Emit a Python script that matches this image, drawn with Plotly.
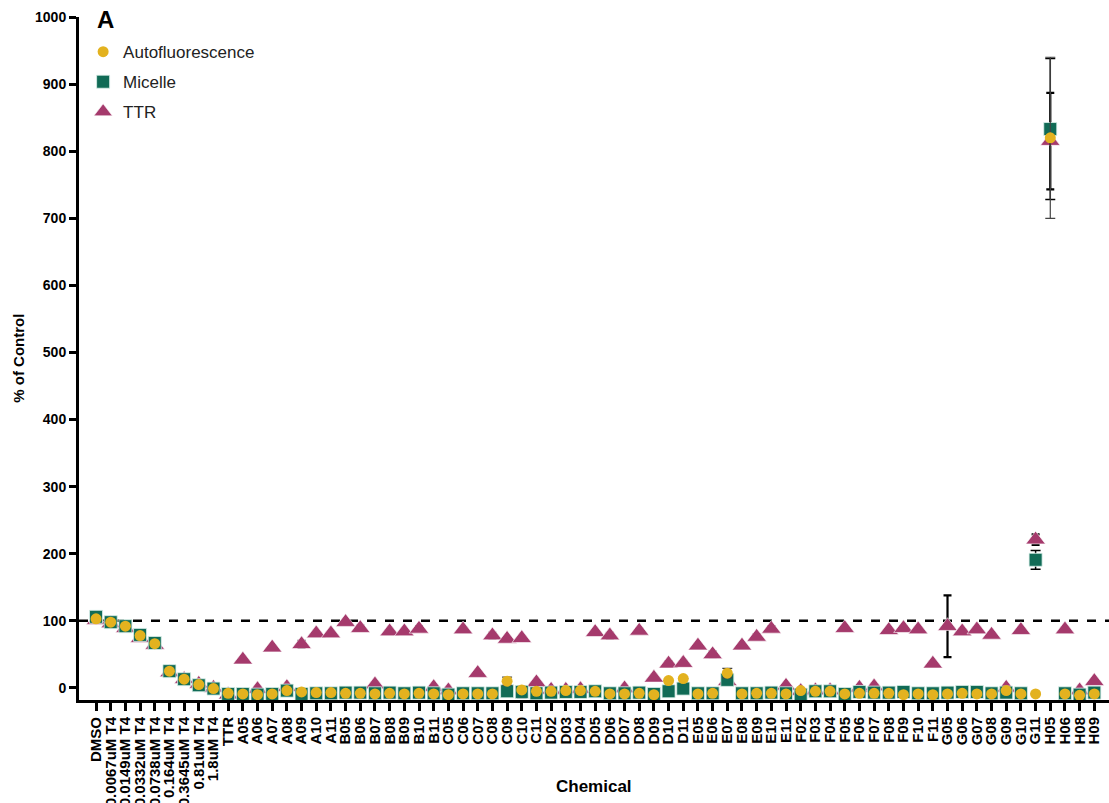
import plotly.graph_objects as go

# Chemicals on the x axis
chemicals = [
    "DMSO", "0.0067uM T4", "0.0149uM T4", "0.0332uM T4", "0.0738uM T4",
    "0.164uM T4", "0.3645uM T4", "0.81uM T4", "1.8uM T4", "TTR",
    "A05", "A06", "A07", "A08", "A09", "A10", "A11",
    "B05", "B06", "B07", "B08", "B09", "B10", "B11",
    "C05", "C06", "C07", "C08", "C09", "C10", "C11",
    "D02", "D03", "D04", "D05", "D06", "D07", "D08", "D09", "D10", "D11",
    "E05", "E06", "E07", "E08", "E09", "E10", "E11",
    "F02", "F03", "F04", "F05", "F06", "F07", "F08", "F09", "F10", "F11",
    "G05", "G06", "G07", "G08", "G09", "G10", "G11",
    "H05", "H06", "H08", "H09",
]

# % of control for each assay
autofluorescence = [
    103, 98, 92, 78, 66, 25, 13, 5, -1, -8,
    -9, -10, -9, -4, -6, -7, -7,
    -8, -8, -9, -8, -9, -8, -9,
    -10, -9, -9, -9, 10, -3, -5,
    -5, -4, -4, -5, -9, -9, -8, -10, 11, 14,
    -9, -8, 22, -9, -8, -8, -9,
    -4, -5, -5, -9, -8, -8, -8, -10, -9, -10,
    -9, -8, -9, -9, -4, -9, -9,
    820, -9, -11, -9,
]
micelle = [
    106, 98, 92, 79, 67, 25, 13, 4, -1, -9,
    -9, -10, -9, -4, -9, -8, -8,
    -7, -7, -8, -7, -8, -7, -8,
    -10, -8, -8, -8, -5, -6, -8,
    -7, -6, -6, -5, -8, -8, -7, -9, -5, -1,
    -8, -8, 12, -8, -8, -7, -8,
    -10, -5, -5, -9, -6, -7, -7, -6, -8, -8,
    -7, -6, -6, -8, -7, -8, 191,
    833, -8, -10, -7,
]
ttr = [
    101, 96, 89, 74, 64, 23, 13, 6, 0, -10,
    42, -2, 60, 1, 65, 81, 81,
    98, 89, 5, 84, 84, 88, 1,
    -4, 87, 22, 78, 73, 74, 8,
    -3, -3, -2, 83, 78, -1, 85, 15, 36, 37,
    63, 50, 10, 63, 76, 88, 3,
    -5, -4, -4, 89, 0, 2, 86, 89, 87, 36,
    92, 84, 87, 79, 0, 86, 221,
    815, 87, -4, 10,
]

# Error bars (None where no bar is drawn)
auto_err = [None] * len(chemicals)
mic_err = [None] * len(chemicals)
ttr_err = [None] * len(chemicals)
for name, e in {"C09": 6, "E07": 7, "H05": 120}.items():
    auto_err[chemicals.index(name)] = e
for name, e in {"C10": 9, "D11": 8, "G11": 14, "H05": 105}.items():
    mic_err[chemicals.index(name)] = e
for name, e in {"A09": 5, "B06": 4, "B10": 4, "C08": 4, "D06": 4, "D08": 3,
                "D10": 4, "D11": 3, "E06": 4, "E09": 4, "E10": 4, "F09": 3,
                "G06": 3, "G08": 3, "H06": 3, "G05": 46, "G11": 8, "H05": 72}.items():
    ttr_err[chemicals.index(name)] = e

x = list(range(len(chemicals)))

YELLOW = "#E3B21F"
GREEN = "#116B56"
MAGENTA = "#A53A6C"

fig = go.Figure()

fig.add_trace(go.Scatter(
    x=x, y=ttr, mode="markers", name="TTR", legendgroup="ttr",
    marker=dict(symbol="triangle-up", size=17, color=MAGENTA,
                line=dict(color="rgba(255,255,255,0.6)", width=1)),
    error_y=dict(type="data", array=ttr_err, visible=True,
                 color="black", thickness=2.2, width=4),
    legendrank=3,
))
fig.add_trace(go.Scatter(
    x=x, y=micelle, mode="markers", name="Micelle", legendgroup="mic",
    marker=dict(symbol="square", size=13, color=GREEN,
                line=dict(color="rgba(220,240,235,0.8)", width=1)),
    error_y=dict(type="data", array=mic_err, visible=True,
                 color="black", thickness=1.5, width=5),
    legendrank=2,
))
fig.add_trace(go.Scatter(
    x=x, y=autofluorescence, mode="markers", name="Autofluorescence",
    legendgroup="auto",
    marker=dict(symbol="circle", size=11, color=YELLOW, line=dict(width=0)),
    error_y=dict(type="data", array=auto_err, visible=True,
                 color="#444444", thickness=1.2, width=5),
    legendrank=1,
))

# Control reference line at 100 %
fig.add_shape(type="line", xref="paper", yref="y", x0=0, x1=1, y0=100, y1=100,
              line=dict(color="black", width=2.5, dash="dash"), layer="below")

bold = "Liberation Sans"

fig.update_layout(
    width=1109, height=803,
    margin=dict(l=79, r=0, t=17, b=103),
    paper_bgcolor="white", plot_bgcolor="white",
    font=dict(family=bold, color="black"),
    showlegend=True,
    legend=dict(x=0.004, y=0.975, xanchor="left", yanchor="top",
                font=dict(size=17, family="Liberation Sans", color="#222222"),
                bgcolor="rgba(0,0,0,0)", itemsizing="trace",
                tracegroupgap=5, traceorder="grouped"),
    xaxis=dict(
        range=[-1.16, 69.0], tickmode="array", tickvals=x, ticktext=chemicals,
        tickangle=-90, ticks="outside", ticklen=8, tickwidth=2.5, tickcolor="black",
        tickfont=dict(size=15, family=bold, weight="bold", color="black"),
        showline=True, linecolor="black", linewidth=3, showgrid=False,
        zeroline=False, automargin=False,
    ),
    yaxis=dict(
        range=[-18, 1000], tickmode="array", tickvals=list(range(0, 1001, 100)),
        ticks="outside", ticklen=7, tickwidth=2.5, tickcolor="black",
        tickfont=dict(size=14, family=bold, weight="bold", color="black"),
        showline=True, linecolor="black", linewidth=3, showgrid=False,
        zeroline=False, automargin=False,
    ),
    annotations=[
        dict(text="Chemical", xref="paper", yref="paper", x=0.5, y=-0.127,
             showarrow=False, xanchor="center", yanchor="middle",
             font=dict(size=17, family=bold, weight="bold", color="black")),
        dict(text="% of Control", xref="paper", yref="paper", x=-0.059, y=0.5,
             textangle=-90, showarrow=False, xanchor="center", yanchor="middle",
             font=dict(size=15, family=bold, weight="bold", color="black")),
        dict(text="A", xref="paper", yref="paper", x=0.016, y=0.996,
             showarrow=False, xanchor="left", yanchor="middle",
             font=dict(size=24, family=bold, weight="bold", color="black")),
    ],
)

fig.write_html("out.html")
